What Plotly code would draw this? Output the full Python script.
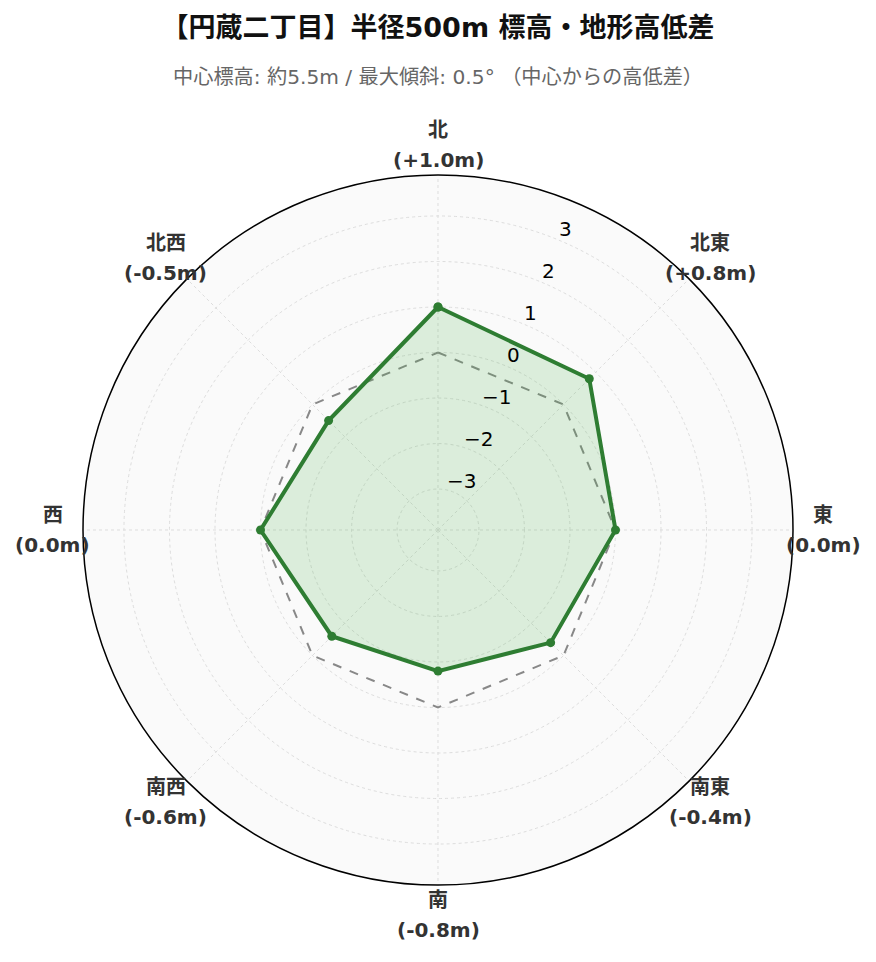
import math
import plotly.graph_objects as go

directions = ['北', '北東', '東', '南東', '南', '南西', '西', '北西']
diffs = [1.0, 0.8, 0.0, -0.4, -0.8, -0.6, 0.0, -0.5]
baseline = [0.0] * len(directions)
radial_ticks = [-3, -2, -1, 0, 1, 2, 3]

FONT = 'DejaVu Sans, Noto Sans CJK JP, sans-serif'
W, H = 860, 946
L, R, TOP, BOTTOM = 75, 75, 150, 52
PLOT_W, PLOT_H = W - L - R, H - TOP - BOTTOM
RADIUS_PX = min(PLOT_W, PLOT_H) / 2
R_MIN, R_MAX = -3.9, 3.9
LABEL_PX = RADIUS_PX + 30   # 方位ラベルは外周から少し外側に中央揃えで配置
TICK_ANGLE = 67.5           # 目盛ラベルを並べる方向 (東から反時計回り)


def fmt(v):
    return f'+{v:.1f}' if v > 0 else f'{v:.1f}'


def paper_xy(r_px, deg_from_east):
    a = math.radians(deg_from_east)
    return (0.5 + r_px * math.cos(a) / PLOT_W,
            0.5 + r_px * math.sin(a) / PLOT_H)


theta = directions + directions[:1]

fig = go.Figure()

# 中心標高 (0m) の基準線
fig.add_trace(go.Scatterpolar(
    r=baseline + baseline[:1],
    theta=theta,
    mode='lines',
    line=dict(color='#888888', width=2, dash='dash'),
    hoverinfo='skip',
    showlegend=False,
))

fig.add_trace(go.Scatterpolar(
    r=diffs + diffs[:1],
    theta=theta,
    mode='lines+markers',
    fill='toself',
    fillcolor='rgba(76,175,80,0.18)',
    line=dict(color='#2e7d32', width=4),
    marker=dict(color='#2e7d32', size=9),
    showlegend=False,
))

annotations = [dict(
    text='中心標高: 約5.5m / 最大傾斜: 0.5° （中心からの高低差）',
    x=0.5, xref='paper', xanchor='center',
    y=1 + (TOP - 69) / PLOT_H, yref='paper', yanchor='middle',
    showarrow=False,
    font=dict(size=20.2, color='#666666'),
)]

# 方位ラベル (北から時計回りに45°ずつ)
step = 360 / len(directions)
for i, (d, v) in enumerate(zip(directions, diffs)):
    x, y = paper_xy(LABEL_PX, 90 - i * step)
    for txt, shift in ((d, 15), (f'({fmt(v)}m)', -15)):
        annotations.append(dict(
            text=f'<b>{txt}</b>',
            x=x, y=y, xref='paper', yref='paper',
            xanchor='center', yanchor='middle', yshift=shift,
            showarrow=False,
            font=dict(size=20, color='#333333'),
        ))

# 半径方向の目盛ラベル
scale = RADIUS_PX / (R_MAX - R_MIN)
for t in radial_ticks:
    x, y = paper_xy((t - R_MIN) * scale + 12, TICK_ANGLE)
    annotations.append(dict(
        text=f'{t}'.replace('-', '\u2212'),
        x=x, y=y, xref='paper', yref='paper',
        xanchor='center', yanchor='middle', xshift=3,
        showarrow=False,
        font=dict(size=20, color='black'),
    ))

fig.update_layout(
    width=W,
    height=H,
    paper_bgcolor='white',
    font=dict(family=FONT),
    margin=dict(l=L, r=R, t=TOP, b=BOTTOM),
    title=dict(
        text='<b>【円蔵二丁目】半径500m 標高・地形高低差</b>',
        x=0.5, xanchor='center',
        y=1 - 20 / H, yanchor='middle', yref='container',
        font=dict(size=27, color='#111111'),
    ),
    annotations=annotations,
    polar=dict(
        bgcolor='#fafafa',
        angularaxis=dict(
            direction='clockwise',
            rotation=90,
            showline=True,
            linecolor='black',
            linewidth=1.5,
            gridcolor='#dddddd',
            griddash='dot',
            ticks='',
            showticklabels=False,
        ),
        radialaxis=dict(
            range=[R_MIN, R_MAX],
            tickvals=radial_ticks,
            angle=TICK_ANGLE,
            showline=False,
            ticks='',
            showticklabels=False,
            gridcolor='#dddddd',
            griddash='dot',
        ),
    ),
)

fig.write_html('out.html')
